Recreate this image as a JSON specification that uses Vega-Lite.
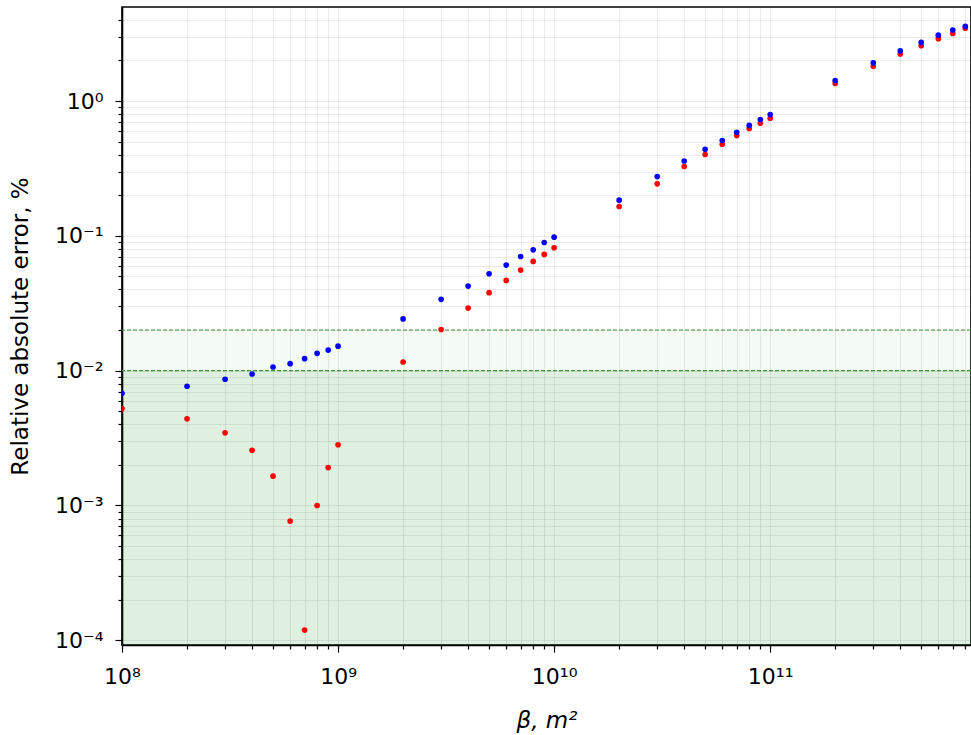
{
  "$schema": "https://vega.github.io/schema/vega-lite/v6.json",
  "width": 849,
  "height": 638,
  "autosize": {"type": "none"},
  "padding": {"left": 122, "top": 7, "right": 0, "bottom": 90},
  "background": "white",
  "config": {
    "font": "DejaVu Sans",
    "view": {"stroke": "black", "strokeWidth": 1.6},
    "axis": {
      "domainColor": "black",
      "domainWidth": 1.6,
      "tickColor": "black",
      "tickWidth": 1.2,
      "labelColor": "black",
      "labelFont": "DejaVu Sans",
      "labelFontSize": 22,
      "titleFont": "DejaVu Sans",
      "titleFontSize": 23,
      "titleFontWeight": "normal",
      "titleColor": "black",
      "gridColor": "#000000",
      "gridOpacity": 0.08,
      "gridWidth": 1,
      "labelOverlap": false,
      "labelFlush": false
    }
  },
  "datasets": {
    "bands": [
      {"lo": 0.00001, "hi": 0.01, "zone": "below"},
      {"lo": 0.01, "hi": 0.02, "zone": "between"}
    ],
    "thresholds": [
      {"level": 0.01},
      {"level": 0.02}
    ],
    "points": [
      {"beta": 1e8, "err": 0.00523, "series": "red"},
      {"beta": 2e8, "err": 0.00439, "series": "red"},
      {"beta": 3e8, "err": 0.00346, "series": "red"},
      {"beta": 4e8, "err": 0.00257, "series": "red"},
      {"beta": 5e8, "err": 0.00165, "series": "red"},
      {"beta": 6e8, "err": 0.000766, "series": "red"},
      {"beta": 7e8, "err": 0.000119, "series": "red"},
      {"beta": 8e8, "err": 0.001, "series": "red"},
      {"beta": 9e8, "err": 0.00191, "series": "red"},
      {"beta": 1e9, "err": 0.00282, "series": "red"},
      {"beta": 2e9, "err": 0.0116, "series": "red"},
      {"beta": 3e9, "err": 0.0202, "series": "red"},
      {"beta": 4e9, "err": 0.0291, "series": "red"},
      {"beta": 5e9, "err": 0.0379, "series": "red"},
      {"beta": 6e9, "err": 0.0467, "series": "red"},
      {"beta": 7e9, "err": 0.0557, "series": "red"},
      {"beta": 8e9, "err": 0.0646, "series": "red"},
      {"beta": 9e9, "err": 0.0728, "series": "red"},
      {"beta": 1e10, "err": 0.0815, "series": "red"},
      {"beta": 2e10, "err": 0.165, "series": "red"},
      {"beta": 3e10, "err": 0.243, "series": "red"},
      {"beta": 4e10, "err": 0.327, "series": "red"},
      {"beta": 5e10, "err": 0.401, "series": "red"},
      {"beta": 6e10, "err": 0.478, "series": "red"},
      {"beta": 7e10, "err": 0.554, "series": "red"},
      {"beta": 8e10, "err": 0.625, "series": "red"},
      {"beta": 9e10, "err": 0.684, "series": "red"},
      {"beta": 1e11, "err": 0.745, "series": "red"},
      {"beta": 2e11, "err": 1.35, "series": "red"},
      {"beta": 3e11, "err": 1.81, "series": "red"},
      {"beta": 4e11, "err": 2.23, "series": "red"},
      {"beta": 5e11, "err": 2.57, "series": "red"},
      {"beta": 6e11, "err": 2.9, "series": "red"},
      {"beta": 7e11, "err": 3.17, "series": "red"},
      {"beta": 8e11, "err": 3.47, "series": "red"},
      {"beta": 1e8, "err": 0.0068, "series": "blue"},
      {"beta": 2e8, "err": 0.00766, "series": "blue"},
      {"beta": 3e8, "err": 0.00863, "series": "blue"},
      {"beta": 4e8, "err": 0.00945, "series": "blue"},
      {"beta": 5e8, "err": 0.01065, "series": "blue"},
      {"beta": 6e8, "err": 0.01127, "series": "blue"},
      {"beta": 7e8, "err": 0.01227, "series": "blue"},
      {"beta": 8e8, "err": 0.01345, "series": "blue"},
      {"beta": 9e8, "err": 0.0142, "series": "blue"},
      {"beta": 1e9, "err": 0.0152, "series": "blue"},
      {"beta": 2e9, "err": 0.0242, "series": "blue"},
      {"beta": 3e9, "err": 0.0338, "series": "blue"},
      {"beta": 4e9, "err": 0.0424, "series": "blue"},
      {"beta": 5e9, "err": 0.0523, "series": "blue"},
      {"beta": 6e9, "err": 0.0607, "series": "blue"},
      {"beta": 7e9, "err": 0.0703, "series": "blue"},
      {"beta": 8e9, "err": 0.0787, "series": "blue"},
      {"beta": 9e9, "err": 0.0893, "series": "blue"},
      {"beta": 1e10, "err": 0.0978, "series": "blue"},
      {"beta": 2e10, "err": 0.184, "series": "blue"},
      {"beta": 3e10, "err": 0.275, "series": "blue"},
      {"beta": 4e10, "err": 0.359, "series": "blue"},
      {"beta": 5e10, "err": 0.439, "series": "blue"},
      {"beta": 6e10, "err": 0.509, "series": "blue"},
      {"beta": 7e10, "err": 0.586, "series": "blue"},
      {"beta": 8e10, "err": 0.661, "series": "blue"},
      {"beta": 9e10, "err": 0.728, "series": "blue"},
      {"beta": 1e11, "err": 0.793, "series": "blue"},
      {"beta": 2e11, "err": 1.42, "series": "blue"},
      {"beta": 3e11, "err": 1.92, "series": "blue"},
      {"beta": 4e11, "err": 2.36, "series": "blue"},
      {"beta": 5e11, "err": 2.72, "series": "blue"},
      {"beta": 6e11, "err": 3.08, "series": "blue"},
      {"beta": 7e11, "err": 3.36, "series": "blue"},
      {"beta": 8e11, "err": 3.58, "series": "blue"}
    ]
  },
  "layer": [
    {
      "data": {"name": "bands"},
      "mark": {"type": "rect", "clip": true, "color": "#008000"},
      "encoding": {
        "y": {"field": "lo", "type": "quantitative", "scale": {"type": "log", "domain": [0.0000923, 4.98], "nice": false}},
        "y2": {"field": "hi"},
        "opacity": {"field": "zone", "type": "nominal", "scale": {"domain": ["below", "between"], "range": [0.12, 0.045]}, "legend": null}
      }
    },
    {
      "data": {"name": "thresholds"},
      "mark": {"type": "rule", "color": "#3a9a3a", "strokeWidth": 1.1, "strokeDash": [4, 2]},
      "encoding": {
        "y": {"field": "level", "type": "quantitative"}
      }
    },
    {
      "data": {"name": "points"},
      "mark": {"type": "circle", "size": 32, "opacity": 1, "clip": true},
      "encoding": {
        "x": {
          "field": "beta",
          "type": "quantitative",
          "scale": {"type": "log", "domain": [1e8, 8.5e11], "nice": false},
          "axis": {
            "title": "β, m²",
            "titleFontStyle": "italic",
            "titlePadding": 22,
            "values": [1e8, 2e8, 3e8, 4e8, 5e8, 6e8, 7e8, 8e8, 9e8, 1e9, 2e9, 3e9, 4e9, 5e9, 6e9, 7e9, 8e9, 9e9, 1e10, 2e10, 3e10, 4e10, 5e10, 6e10, 7e10, 8e10, 9e10, 1e11, 2e11, 3e11, 4e11, 5e11, 6e11, 7e11, 8e11],
            "labelExpr": "abs(log(datum.value)/LN10-round(log(datum.value)/LN10))<0.001 ? ['10⁸','10⁹','10¹⁰','10¹¹'][round(log(datum.value)/LN10)-8] : ''",
            "tickSize": {"condition": {"test": "abs(log(datum.value)/LN10-round(log(datum.value)/LN10))<0.001", "value": 7}, "value": 4},
            "labelPadding": 14
          }
        },
        "y": {
          "field": "err",
          "type": "quantitative",
          "scale": {"type": "log", "domain": [0.0000923, 4.98], "nice": false},
          "axis": {
            "title": "Relative absolute error, %",
            "titlePadding": 22,
            "values": [0.0001, 0.0002, 0.0003, 0.0004, 0.0005, 0.0006, 0.0007, 0.0008, 0.0009, 0.001, 0.002, 0.003, 0.004, 0.005, 0.006, 0.007, 0.008, 0.009, 0.01, 0.02, 0.03, 0.04, 0.05, 0.06, 0.07, 0.08, 0.09, 0.1, 0.2, 0.3, 0.4, 0.5, 0.6, 0.7, 0.8, 0.9, 1, 2, 3, 4],
            "labelExpr": "abs(log(datum.value)/LN10-round(log(datum.value)/LN10))<0.001 ? ['10⁻⁴','10⁻³','10⁻²','10⁻¹','10⁰'][round(log(datum.value)/LN10)+4] : ''",
            "tickSize": {"condition": {"test": "abs(log(datum.value)/LN10-round(log(datum.value)/LN10))<0.001", "value": 7}, "value": 4},
            "labelPadding": 12
          }
        },
        "color": {"field": "series", "type": "nominal", "scale": {"domain": ["red", "blue"], "range": ["#ff0000", "#0000ff"]}, "legend": null}
      }
    }
  ]
}
